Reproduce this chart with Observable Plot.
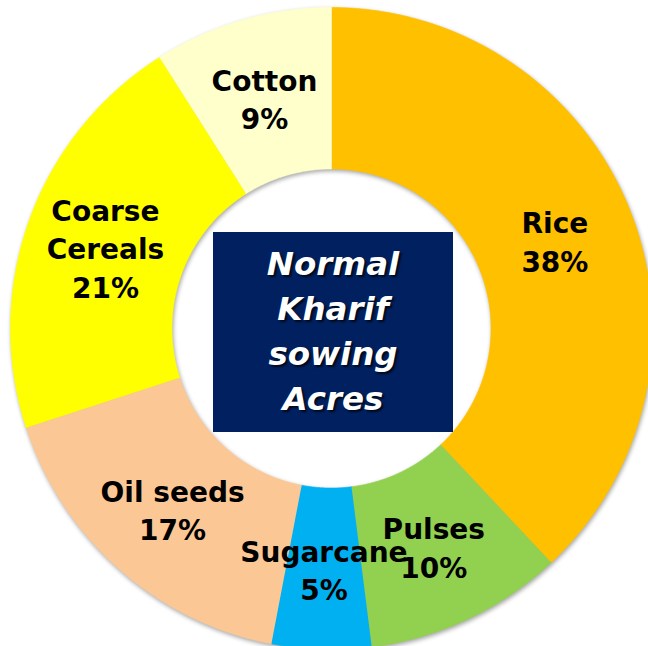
<!DOCTYPE html>
<html>
<head>
<meta charset="utf-8">
<script src="https://cdn.jsdelivr.net/npm/d3@7"></script>
<script src="https://cdn.jsdelivr.net/npm/@observablehq/plot@0.6"></script>
<style>
  html, body { margin: 0; padding: 0; background: #fff; }
  #wrap { position: relative; width: 648px; height: 646px; overflow: hidden; }
  #wrap svg { display: block; }
  .ring { filter: drop-shadow(1px 2px 2px rgba(0,0,0,0.35)); }
  #center {
    position: absolute; left: 213px; top: 232px; width: 240px; height: 200px;
    background: #002060; color: #fff; display: flex; flex-direction: column;
    align-items: center; justify-content: center;
    font-family: "DejaVu Sans", sans-serif; font-weight: bold; font-style: italic;
    font-size: 32.5px; line-height: 45px; text-align: center;
    text-shadow: 2px 2px 2px rgba(0,0,0,0.7);
  }
</style>
</head>
<body>
<div id="wrap"></div>
<script>
// ---- data ----
const categories = ["Rice", "Pulses", "Sugarcane", "Oil seeds", "Coarse Cereals", "Cotton"];
const shares = [38, 10, 5, 17, 21, 9];
const labelNames = ["Rice", "Pulses", "Sugarcane", "Oil seeds", "Coarse\nCereals", "Cotton"];
const colors = ["#FFC000", "#92D050", "#00B0F0", "#FBC895", "#FFFF00", "#FFFFCC"];
const centerTitle = ["Normal", "Kharif", "sowing", "Acres"];

// ---- geometry derived from the data ----
const outerR = 1, innerR = 0.497;
const total = d3.sum(shares);
const slices = [];
let acc = 0;
categories.forEach((c, i) => {
  const a0 = acc / total * 2 * Math.PI;
  acc += shares[i];
  const a1 = acc / total * 2 * Math.PI;
  slices.push({name: c, a0, a1, share: shares[i], label: labelNames[i] + "\n" + shares[i] + "%"});
});
const pts = [];
for (const s of slices) {
  const n = Math.max(2, Math.ceil((s.a1 - s.a0) / (Math.PI / 360)));
  for (let k = 0; k <= n; k++) {
    const a = s.a0 + (s.a1 - s.a0) * k / n;
    pts.push({name: s.name, x: outerR * Math.sin(a), y: outerR * Math.cos(a)});
  }
  for (let k = n; k >= 0; k--) {
    const a = s.a0 + (s.a1 - s.a0) * k / n;
    pts.push({name: s.name, x: innerR * Math.sin(a), y: innerR * Math.cos(a)});
  }
}
const labels = slices.map(s => {
  const m = (s.a0 + s.a1) / 2, r = (outerR + innerR) / 2;
  return {label: s.label, x: r * Math.sin(m), y: r * Math.cos(m)};
});

const W = 648, H = 646, R = 321, cx = 331, cy = 328;
const chart = Plot.plot({
  width: W, height: H,
  margin: 0,
  x: {domain: [-cx / R, (W - cx) / R], range: [0, W], axis: null},
  y: {domain: [-(H - cy) / R, cy / R], range: [H, 0], axis: null},
  color: {domain: categories, range: colors},
  style: {background: "transparent"},
  marks: [
    Plot.line(pts, {x: "x", y: "y", z: "name", fill: "name", stroke: "name", strokeWidth: 0.6, curve: "linear", className: "ring"}),
    Plot.text(labels, {x: "x", y: "y", text: "label", fontSize: 28, fontWeight: "bold",
      fontFamily: "DejaVu Sans", lineHeight: 1.38, fill: "#000", textAnchor: "middle"})
  ]
});
const wrap = document.getElementById("wrap");
wrap.appendChild(chart);
const box = document.createElement("div");
box.id = "center";
box.innerHTML = centerTitle.map(t => `<div>${t}</div>`).join("");
wrap.appendChild(box);
</script>
</body>
</html>
